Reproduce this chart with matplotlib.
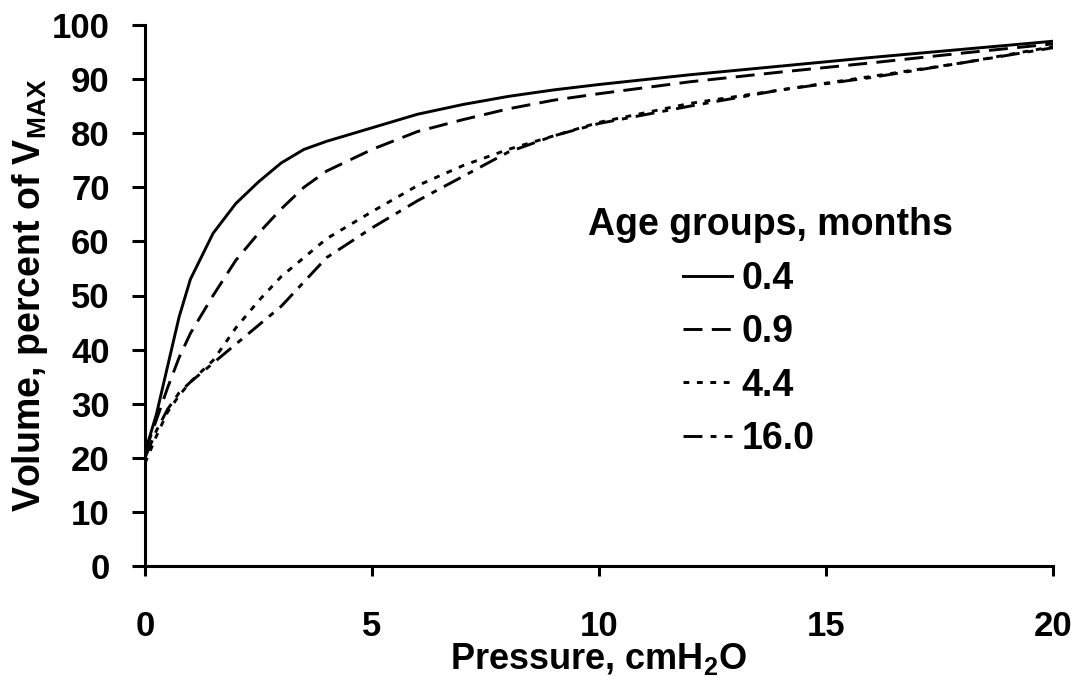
import matplotlib
matplotlib.use("Agg")
import matplotlib.pyplot as plt

plt.rcParams['font.family'] = ['Liberation Sans', 'DejaVu Sans']
plt.rcParams['font.weight'] = 'bold'
plt.rcParams['mathtext.fontset'] = 'custom'
plt.rcParams['mathtext.bf'] = 'Liberation Sans:bold'
plt.rcParams['mathtext.rm'] = 'Liberation Sans:bold'

pressure = [0, 0.25, 0.5, 0.75, 1, 1.5, 2, 2.5, 3, 3.5, 4, 5, 6, 7, 8, 9, 10, 12, 14, 16, 18, 20]
vol_04 = [21, 28, 37, 46, 53, 61.5, 67, 71, 74.5, 77, 78.5, 81, 83.5, 85.3, 86.8, 88, 89, 90.8, 92.4, 94, 95.5, 97]
vol_09 = [21, 27, 33, 38.5, 43, 50, 56.5, 61.5, 66, 70, 73, 77, 80.3, 82.5, 84.5, 86.1, 87.3, 89.5, 91.3, 93, 94.8, 96.5]
vol_44 = [19, 24, 28.5, 31.5, 34, 38, 44, 49, 53.5, 57, 60.5, 65.5, 70.3, 74, 77, 79.5, 82, 85.5, 88, 90.5, 93, 96]
vol_16 = [20, 25, 29, 32, 34, 37.5, 41, 44.5, 48, 52.5, 57, 62.5, 67.5, 72, 76.5, 79.5, 81.8, 85, 88, 90.3, 93, 95.8]
labels = ['0.4', '0.9', '4.4', '16.0']

fig = plt.figure(figsize=(10.82, 6.88), dpi=100)
ax = fig.add_axes([145/1082, 1-566/688, (1053-145)/1082, (566-25)/688])

lw = 2.1
series = [vol_04, vol_09, vol_44, vol_16]
dashes = [None, (6.5, 3.2), (2, 2.6), (6.5, 2.8, 2, 2.8)]
handles = []
for vals, lab, d in zip(series, labels, dashes):
    if d is None:
        h, = ax.plot(pressure, vals, color='black', lw=lw, label=lab)
    else:
        h, = ax.plot(pressure, vals, color='black', lw=lw, label=lab, dashes=d)
    handles.append(h)

ax.set_xlim(0, 20)
ax.set_ylim(0, 100)
ax.set_xticks([0, 5, 10, 15, 20])
ax.set_yticks(range(0, 101, 10))
for s in ['top', 'right']:
    ax.spines[s].set_visible(False)
for s in ['left', 'bottom']:
    ax.spines[s].set_linewidth(2.2)
ax.tick_params(axis='y', direction='out', length=9.5, width=2.2, labelsize=25, pad=16)
ax.tick_params(axis='x', direction='out', length=7, width=2.2, labelsize=25, pad=25)
for t in ax.get_xticklabels() + ax.get_yticklabels():
    t.set_fontweight('bold')

ax.set_xlabel(r"Pressure, cmH$_{\mathbf{2}}$O", fontsize=26, fontweight='bold', labelpad=-2)
ax.set_ylabel(r"Volume, percent of V$_{\mathbf{MAX}}$", fontsize=27, fontweight='bold', labelpad=1)

fig.text(588/1082, 1-235/688, "Age groups, months", fontsize=27, fontweight='bold',
         ha='left', va='baseline')
leg = ax.legend(handles=handles, labels=labels, loc='upper left',
                bbox_to_anchor=(683/1082, 1-261/688), bbox_transform=fig.transFigure,
                frameon=False, fontsize=27, handlelength=1.3, handletextpad=0.27,
                labelspacing=0.46, borderpad=0, borderaxespad=0)
for t in leg.get_texts():
    t.set_fontweight('bold')

fig.savefig("out.png", dpi=100)
